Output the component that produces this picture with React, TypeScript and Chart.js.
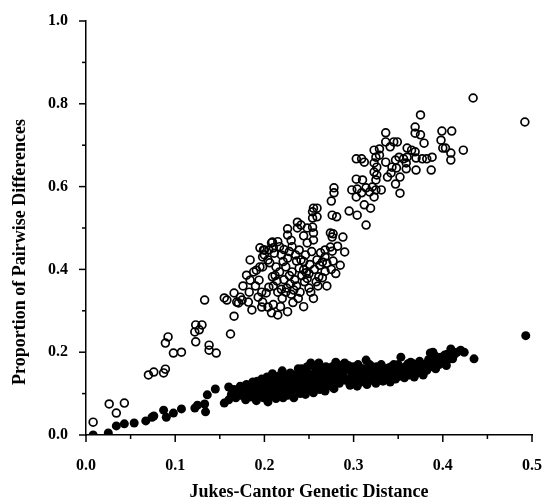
import React, { useEffect, useRef } from "react";
import { Chart, registerables } from "chart.js";
Chart.register(...registerables);

const xTitle = "Jukes-Cantor Genetic Distance";
const yTitle = "Proportion of Pairwise Differences";
const xMajorTicks = [0, 0.1, 0.2, 0.3, 0.4, 0.5];
const xMinorTicks = [0.05, 0.15, 0.25, 0.35, 0.45];
const yMajorTicks = [0, 0.2, 0.4, 0.6, 0.8, 1.0];
const yMinorTicks = [0.1, 0.3, 0.5, 0.7, 0.9];

// Open circles
const openPoints: [number, number][] = [
  [0.008, 0.031], [0.026, 0.075], [0.034, 0.053], [0.043, 0.077],
  [0.070, 0.145], [0.076, 0.152], [0.087, 0.150], [0.089, 0.159],
  [0.089, 0.222], [0.092, 0.237], [0.098, 0.198], [0.107, 0.200],
  [0.122, 0.249], [0.123, 0.266], [0.127, 0.254], [0.130, 0.266], [0.123, 0.225],
  [0.138, 0.217], [0.138, 0.205], [0.146, 0.198], [0.162, 0.244], [0.166, 0.287],
  [0.133, 0.326], [0.155, 0.331], [0.158, 0.326], [0.166, 0.343], [0.169, 0.321],
  [0.173, 0.333], [0.175, 0.326], [0.171, 0.319], [0.182, 0.321], [0.186, 0.302], [0.208, 0.295],
  [0.180, 0.386], [0.184, 0.374], [0.191, 0.398], [0.194, 0.374], [0.198, 0.406],
  [0.197, 0.345], [0.202, 0.343], [0.193, 0.333], [0.198, 0.321], [0.204, 0.309],
  [0.197, 0.309], [0.205, 0.357], [0.209, 0.382], [0.204, 0.423], [0.205, 0.447],
  [0.198, 0.430], [0.195, 0.452], [0.184, 0.423], [0.200, 0.447], [0.209, 0.466],
  [0.188, 0.394], [0.176, 0.360], [0.183, 0.345], [0.190, 0.360],
  [0.199, 0.447], [0.200, 0.435], [0.208, 0.464], [0.210, 0.452], [0.215, 0.467],
  [0.217, 0.455], [0.211, 0.439], [0.219, 0.435], [0.221, 0.419], [0.226, 0.427],
  [0.228, 0.443], [0.231, 0.455], [0.235, 0.435], [0.239, 0.447], [0.241, 0.423],
  [0.244, 0.419], [0.246, 0.435], [0.195, 0.406], [0.206, 0.416], [0.213, 0.406],
  [0.217, 0.394], [0.224, 0.406], [0.231, 0.394], [0.239, 0.403], [0.244, 0.399],
  [0.248, 0.378], [0.261, 0.382], [0.253, 0.443], [0.265, 0.418], [0.259, 0.423],
  [0.268, 0.430], [0.263, 0.440], [0.268, 0.447], [0.274, 0.454], [0.276, 0.444],
  [0.255, 0.471], [0.248, 0.464], [0.282, 0.456], [0.290, 0.442],
  [0.210, 0.360], [0.215, 0.345], [0.220, 0.330], [0.225, 0.355], [0.230, 0.340],
  [0.218, 0.310], [0.226, 0.298], [0.232, 0.320], [0.236, 0.360], [0.240, 0.345],
  [0.245, 0.370], [0.250, 0.355], [0.255, 0.330], [0.260, 0.360], [0.265, 0.380],
  [0.270, 0.360], [0.275, 0.400], [0.280, 0.390], [0.212, 0.385], [0.222, 0.375],
  [0.228, 0.385], [0.234, 0.375], [0.242, 0.385], [0.250, 0.390], [0.256, 0.400],
  [0.262, 0.410], [0.270, 0.415], [0.215, 0.290], [0.210, 0.315], [0.224, 0.345],
  [0.238, 0.330], [0.244, 0.310], [0.252, 0.345], [0.258, 0.370], [0.268, 0.395],
  [0.277, 0.420], [0.285, 0.410],
  [0.214, 0.372], [0.219, 0.352], [0.229, 0.365], [0.233, 0.350], [0.247, 0.392],
  [0.236, 0.420], [0.222, 0.448], [0.230, 0.470], [0.251, 0.412],
  [0.226, 0.498], [0.226, 0.483], [0.237, 0.514], [0.241, 0.507], [0.237, 0.500],
  [0.248, 0.500], [0.254, 0.502], [0.255, 0.488], [0.244, 0.481],
  [0.274, 0.488], [0.277, 0.486], [0.276, 0.478], [0.288, 0.478],
  [0.255, 0.548], [0.259, 0.548], [0.254, 0.539], [0.259, 0.527], [0.254, 0.524],
  [0.276, 0.531], [0.281, 0.527], [0.275, 0.565], [0.278, 0.597], [0.278, 0.585],
  [0.295, 0.541], [0.304, 0.531], [0.314, 0.507], [0.312, 0.556], [0.319, 0.548],
  [0.298, 0.592], [0.304, 0.594], [0.309, 0.585], [0.303, 0.575], [0.314, 0.597],
  [0.318, 0.587], [0.321, 0.599], [0.325, 0.592], [0.323, 0.575], [0.331, 0.592],
  [0.303, 0.618], [0.310, 0.616], [0.326, 0.628], [0.325, 0.616], [0.347, 0.606],
  [0.352, 0.584], [0.352, 0.623], [0.343, 0.647], [0.342, 0.633], [0.338, 0.623],
  [0.348, 0.645], [0.359, 0.643], [0.370, 0.640], [0.387, 0.640],
  [0.323, 0.657], [0.326, 0.647], [0.323, 0.635],
  [0.303, 0.667], [0.309, 0.667], [0.312, 0.659], [0.325, 0.671], [0.329, 0.676],
  [0.336, 0.659], [0.351, 0.671], [0.356, 0.667], [0.360, 0.671], [0.347, 0.664],
  [0.370, 0.669], [0.377, 0.667], [0.382, 0.667], [0.388, 0.671], [0.359, 0.657],
  [0.323, 0.688], [0.329, 0.691], [0.360, 0.693], [0.365, 0.688], [0.369, 0.684],
  [0.400, 0.693], [0.403, 0.693], [0.409, 0.681], [0.423, 0.688], [0.409, 0.664],
  [0.341, 0.696], [0.336, 0.708], [0.345, 0.708], [0.349, 0.708], [0.379, 0.705],
  [0.398, 0.712], [0.336, 0.730], [0.369, 0.729], [0.375, 0.725], [0.399, 0.734],
  [0.410, 0.734], [0.369, 0.744], [0.375, 0.773], [0.434, 0.814], [0.492, 0.756]
];

// Filled circles
const filledPoints: [number, number][] = [
  [0.008, 0.000], [0.025, 0.005], [0.034, 0.022], [0.043, 0.027], [0.054, 0.029],
  [0.067, 0.034], [0.074, 0.043], [0.076, 0.046], [0.087, 0.060], [0.090, 0.043],
  [0.098, 0.053], [0.107, 0.063], [0.122, 0.065], [0.125, 0.072], [0.133, 0.075],
  [0.134, 0.056], [0.136, 0.097], [0.145, 0.111], [0.155, 0.077], [0.160, 0.116],
  [0.160, 0.085], [0.163, 0.098], [0.166, 0.110], [0.168, 0.090], [0.171, 0.102],
  [0.173, 0.118], [0.175, 0.095], [0.177, 0.107], [0.179, 0.085], [0.180, 0.122],
  [0.182, 0.100], [0.184, 0.112], [0.185, 0.092], [0.187, 0.128], [0.188, 0.104],
  [0.190, 0.116], [0.191, 0.083], [0.193, 0.097], [0.194, 0.124], [0.196, 0.108],
  [0.197, 0.135], [0.199, 0.090], [0.200, 0.118], [0.201, 0.102],
  [0.203, 0.140], [0.204, 0.080], [0.205, 0.126], [0.207, 0.095], [0.208, 0.112],
  [0.209, 0.148], [0.211, 0.105], [0.212, 0.132], [0.213, 0.088], [0.215, 0.120],
  [0.216, 0.142], [0.217, 0.100], [0.219, 0.113], [0.220, 0.155], [0.221, 0.090],
  [0.222, 0.128], [0.224, 0.108], [0.225, 0.140], [0.226, 0.096], [0.228, 0.118],
  [0.229, 0.150], [0.230, 0.104], [0.232, 0.132], [0.233, 0.090], [0.234, 0.122],
  [0.236, 0.145], [0.237, 0.110], [0.238, 0.160], [0.240, 0.100], [0.241, 0.128],
  [0.243, 0.115], [0.244, 0.150], [0.246, 0.098], [0.247, 0.135], [0.248, 0.165],
  [0.250, 0.108], [0.251, 0.124], [0.252, 0.174], [0.254, 0.142], [0.255, 0.102],
  [0.257, 0.118], [0.258, 0.156], [0.260, 0.130], [0.261, 0.174], [0.262, 0.110],
  [0.264, 0.145], [0.265, 0.125], [0.267, 0.160], [0.268, 0.106], [0.270, 0.138],
  [0.271, 0.118], [0.273, 0.150], [0.275, 0.128], [0.276, 0.165], [0.278, 0.112],
  [0.279, 0.140], [0.280, 0.176],
  [0.176, 0.115], [0.186, 0.118], [0.192, 0.130], [0.198, 0.125], [0.202, 0.130],
  [0.206, 0.118], [0.210, 0.138], [0.214, 0.128], [0.218, 0.145], [0.223, 0.118],
  [0.227, 0.135], [0.231, 0.145], [0.235, 0.130], [0.239, 0.140], [0.242, 0.160],
  [0.245, 0.125], [0.249, 0.150], [0.253, 0.130], [0.256, 0.165], [0.259, 0.142],
  [0.263, 0.155], [0.266, 0.140], [0.269, 0.165], [0.272, 0.130], [0.277, 0.150],
  [0.281, 0.135], [0.285, 0.160], [0.289, 0.140], [0.294, 0.168], [0.297, 0.132],
  [0.301, 0.150], [0.305, 0.170], [0.309, 0.142], [0.313, 0.160], [0.318, 0.170],
  [0.322, 0.135], [0.326, 0.165], [0.330, 0.150], [0.334, 0.160], [0.338, 0.150],
  [0.342, 0.165], [0.346, 0.150], [0.350, 0.170], [0.354, 0.148], [0.358, 0.165],
  [0.362, 0.155], [0.367, 0.172], [0.371, 0.158], [0.375, 0.168], [0.379, 0.158],
  [0.383, 0.170], [0.388, 0.182], [0.393, 0.172], [0.397, 0.182], [0.401, 0.185],
  [0.405, 0.195], [0.408, 0.188], [0.416, 0.200], [0.420, 0.205], [0.392, 0.190],
  [0.282, 0.155], [0.284, 0.125], [0.286, 0.145], [0.288, 0.170], [0.290, 0.174],
  [0.291, 0.132], [0.293, 0.158], [0.296, 0.120], [0.298, 0.145], [0.300, 0.165],
  [0.302, 0.135], [0.304, 0.118], [0.306, 0.150], [0.308, 0.128], [0.310, 0.160],
  [0.312, 0.140], [0.314, 0.181], [0.315, 0.122], [0.317, 0.152], [0.319, 0.132],
  [0.321, 0.165], [0.323, 0.145], [0.325, 0.125], [0.327, 0.155], [0.329, 0.138],
  [0.331, 0.170],
  [0.333, 0.130], [0.335, 0.150], [0.337, 0.140], [0.339, 0.162], [0.341, 0.128],
  [0.343, 0.148], [0.345, 0.170], [0.347, 0.135], [0.349, 0.155], [0.351, 0.142],
  [0.353, 0.188], [0.355, 0.160], [0.357, 0.138], [0.359, 0.150], [0.361, 0.172],
  [0.363, 0.145], [0.364, 0.176], [0.366, 0.158], [0.368, 0.140], [0.370, 0.165],
  [0.372, 0.150], [0.374, 0.178], [0.376, 0.160], [0.378, 0.145],
  [0.380, 0.170], [0.382, 0.156], [0.384, 0.182], [0.386, 0.198], [0.387, 0.165],
  [0.389, 0.200], [0.390, 0.175], [0.392, 0.160], [0.394, 0.185], [0.396, 0.170],
  [0.398, 0.188], [0.400, 0.178], [0.402, 0.193], [0.404, 0.168], [0.406, 0.182],
  [0.409, 0.208], [0.411, 0.184], [0.413, 0.195], [0.424, 0.200], [0.435, 0.184],
  [0.493, 0.240]
];

const FONT = '"Liberation Serif", "Times New Roman", serif';

const axisDecor = {
  id: "axisDecor",
  afterDraw(chart: any) {
    const { ctx } = chart;
    const x = chart.scales.x;
    const y = chart.scales.y;
    ctx.save();
    ctx.strokeStyle = "#000";
    ctx.lineWidth = 1.5;
    const drawX = (vals: number[], len: number) => {
      vals.forEach((v) => {
        const px = x.getPixelForValue(v);
        ctx.beginPath();
        ctx.moveTo(px, y.bottom);
        ctx.lineTo(px, y.bottom + len);
        ctx.stroke();
      });
    };
    const drawY = (vals: number[], len: number) => {
      vals.forEach((v) => {
        const py = y.getPixelForValue(v);
        ctx.beginPath();
        ctx.moveTo(x.left, py);
        ctx.lineTo(x.left - len, py);
        ctx.stroke();
      });
    };
    drawX(xMajorTicks, 7);
    drawX(xMinorTicks, 4);
    drawY(yMajorTicks, 7);
    drawY(yMinorTicks, 4);
    ctx.translate(20, 252);
    ctx.rotate(-Math.PI / 2);
    ctx.fillStyle = "#000";
    ctx.font = "bold 18px " + FONT;
    ctx.textAlign = "center";
    ctx.textBaseline = "middle";
    ctx.fillText(yTitle, 0, 0);
    ctx.restore();
  },
};

export default function App() {
  const ref = useRef<HTMLCanvasElement | null>(null);
  useEffect(() => {
    if (!ref.current) return;
    const chart = new Chart(ref.current, {
      type: "scatter",
      data: {
        datasets: [
          {
            label: "all",
            data: openPoints.map(([x, y]) => ({ x, y })),
            pointStyle: "circle",
            pointRadius: 3.9,
            pointBorderWidth: 1.7,
            pointBorderColor: "#000",
            pointBackgroundColor: "rgba(255,255,255,0)",
          },
          {
            label: "subset",
            data: filledPoints.map(([x, y]) => ({ x, y })),
            pointStyle: "circle",
            pointRadius: 4.5,
            pointBorderWidth: 0,
            pointBorderColor: "#000",
            pointBackgroundColor: "#000",
          },
        ],
      },
      options: {
        animation: false,
        responsive: false,
        layout: { padding: { top: 21, right: 14, left: 0, bottom: 0 } },
        plugins: { legend: { display: false }, tooltip: { enabled: false } },
        scales: {
          x: {
            type: "linear",
            min: 0,
            max: 0.5,
            afterFit: (s: any) => { s.height = 68; },
            grid: { display: false },
            border: { display: true, color: "#000", width: 1.5 },
            ticks: {
              stepSize: 0.1,
              padding: 13,
              color: "#000",
              font: { family: FONT, size: 16, weight: "bold" },
              maxRotation: 0,
              callback: (v: any) => Number(v).toFixed(1),
            },
            title: {
              display: true,
              text: xTitle,
              color: "#000",
              font: { family: FONT, size: 18, weight: "bold" },
              padding: { top: 0, bottom: 0 },
            },
          },
          y: {
            type: "linear",
            min: 0,
            max: 1.0,
            afterFit: (s: any) => { s.width = 86; },
            grid: { display: false },
            border: { display: true, color: "#000", width: 1.5 },
            ticks: {
              stepSize: 0.2,
              padding: 10,
              color: "#000",
              font: { family: FONT, size: 16, weight: "bold" },
              callback: (v: any) => Number(v).toFixed(1),
            },
          },
        },
      },
      plugins: [axisDecor],
    });
    return () => chart.destroy();
  }, []);
  return (
    <div style={{ position: "absolute", left: 0, top: 0, width: 555, height: 503, background: "#fff" }}>
      <canvas ref={ref} width={555} height={503} style={{ display: "block" }} />
    </div>
  );
}
